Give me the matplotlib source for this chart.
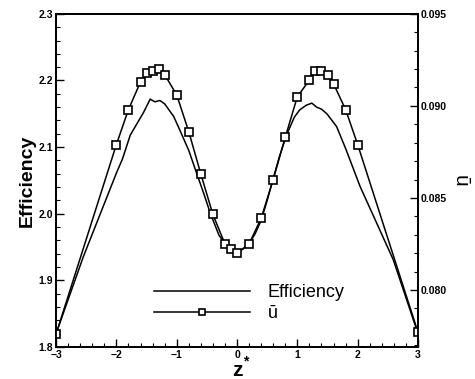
import numpy as np
import matplotlib
matplotlib.use('Agg')
import matplotlib.pyplot as plt
from matplotlib.ticker import MultipleLocator, FormatStrFormatter

plt.rcParams['font.family'] = ['Liberation Sans', 'DejaVu Sans']

# Efficiency (left axis), continuous line
eff_z = [-3.0, -2.55, -2.0, -1.9, -1.77, -1.66, -1.55, -1.44, -1.36, -1.28, -1.2,
         -1.05, -0.95, -0.8, -0.67, -0.55, -0.44, -0.3, -0.2, -0.1, 0.0, 0.1, 0.2,
         0.3, 0.4, 0.5, 0.6, 0.7, 0.82, 0.95, 1.04, 1.15, 1.24, 1.32, 1.4, 1.49,
         1.65, 1.8, 2.04, 2.59, 3.0]
eff = [1.820, 1.935, 2.061, 2.082, 2.118, 2.135, 2.152, 2.172, 2.168, 2.170, 2.165,
       2.146, 2.126, 2.095, 2.061, 2.030, 2.000, 1.968, 1.955, 1.947, 1.943, 1.947, 1.955,
       1.970, 1.990, 2.020, 2.053, 2.085, 2.118, 2.145, 2.156, 2.163, 2.166, 2.160, 2.157, 2.150,
       2.131, 2.098, 2.041, 1.931, 1.820]

# u-bar (right axis), square markers
u_z = [-3.0, -2.0, -1.8, -1.6, -1.5, -1.4, -1.3, -1.2, -1.0, -0.8, -0.6, -0.4, -0.2,
       -0.1, 0.0, 0.2, 0.4, 0.6, 0.8, 1.0, 1.2, 1.3, 1.4, 1.5, 1.6, 1.8, 2.0, 3.0]
u_bar = [0.0776, 0.0879, 0.0898, 0.0913, 0.0918, 0.0919, 0.0920, 0.0917, 0.0906, 0.0886,
         0.0863, 0.0841, 0.0825, 0.0822, 0.0820, 0.0825, 0.0839, 0.0860, 0.0883, 0.0905,
         0.0914, 0.0919, 0.0919, 0.0917, 0.0912, 0.0898, 0.0879, 0.0777]

fig = plt.figure(figsize=(4.75, 3.79), dpi=100)
ax = fig.add_axes([0.118, 0.0844, 0.762, 0.879])
ax2 = ax.twinx()

l1, = ax.plot(eff_z, eff, color='black', lw=1.1)
l2, = ax2.plot(u_z, u_bar, color='black', lw=1.1, marker='s', markersize=5.5,
               markerfacecolor='white', markeredgewidth=1.2)

ax.set_xlim(-3, 3)
ax.set_ylim(1.8, 2.3)
ax2.set_ylim(0.0769, 0.095)

ax.xaxis.set_major_locator(MultipleLocator(1))
ax.xaxis.set_minor_locator(MultipleLocator(0.2))
ax.yaxis.set_major_locator(MultipleLocator(0.1))
ax.yaxis.set_minor_locator(MultipleLocator(0.02))
ax.yaxis.set_major_formatter(FormatStrFormatter('%.1f'))
ax2.yaxis.set_major_locator(MultipleLocator(0.005))
ax2.yaxis.set_minor_locator(MultipleLocator(0.001))
ax2.yaxis.set_major_formatter(FormatStrFormatter('%.3f'))

for a in (ax, ax2):
    a.tick_params(which='major', direction='in', length=6, width=1, labelsize=7.5, pad=2)
    a.tick_params(which='minor', direction='in', length=3, width=0.8)
    for s in a.spines.values():
        s.set_linewidth(1.3)
ax.tick_params(top=False, right=False, which='both')
ax2.tick_params(left=False, which='both')
for lab in ax.get_xticklabels() + ax.get_yticklabels() + ax2.get_yticklabels():
    lab.set_fontweight('bold')

ax.set_ylabel('Efficiency', fontsize=14, fontweight='bold', labelpad=2)
ax2.set_ylabel('ū', fontsize=15, rotation=270, labelpad=16)

# x label "z*" with raised asterisk
fig.text(0.499, 0.022, 'z', fontsize=15, fontweight='bold', ha='center', va='center')
fig.text(0.518, 0.045, '*', fontsize=10, fontweight='bold', ha='center', va='center')

ax.legend([l1, l2], ['Efficiency', 'ū'], loc='upper left', bbox_to_anchor=(0.246, 0.215),
          frameon=False, fontsize=13, handlelength=5.3, handletextpad=1.0,
          labelspacing=0.2, markerscale=0.8, borderpad=0)

fig.savefig('out.png', dpi=100)
